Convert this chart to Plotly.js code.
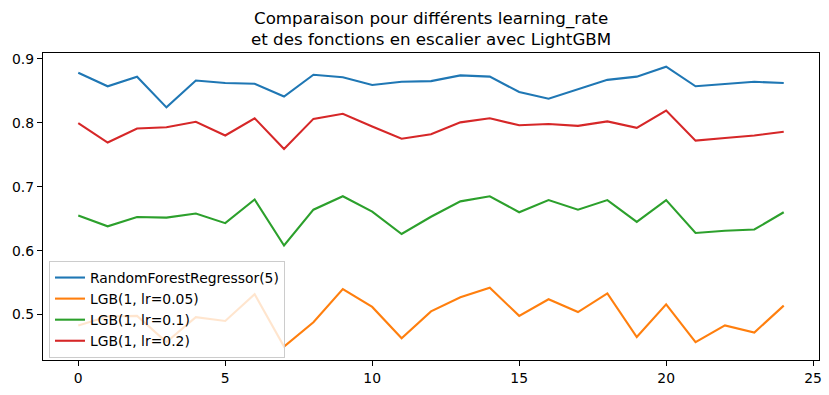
<!DOCTYPE html>
<html>
<head>
<meta charset="utf-8">
<script src="https://cdn.plot.ly/plotly-3.0.1.min.js"></script>
<style>html,body{margin:0;padding:0;background:#fff;}#chart{width:829px;height:395px;}</style>
</head>
<body>
<div id="chart"></div>
<script>
const xValues = [0,1,2,3,4,5,6,7,8,9,10,11,12,13,14,15,16,17,18,19,20,21,22,23,24];
const seriesNames = ["RandomForestRegressor(5)", "LGB(1, lr=0.05)", "LGB(1, lr=0.1)", "LGB(1, lr=0.2)"];
const rfValues = [0.878,0.857,0.872,0.824,0.866,0.862,0.861,0.841,0.875,0.871,0.859,0.864,0.865,0.874,0.872,0.848,0.8375,0.852,0.867,0.872,0.8875,0.857,0.861,0.864,0.862];
const lr005Values = [0.483,0.497,0.498,0.457,0.496,0.490,0.532,0.450,0.488,0.540,0.512,0.463,0.505,0.527,0.542,0.498,0.524,0.504,0.533,0.465,0.516,0.457,0.483,0.472,0.514];
const lr01Values = [0.655,0.638,0.6527,0.6516,0.658,0.643,0.680,0.608,0.664,0.685,0.661,0.626,0.653,0.677,0.685,0.660,0.679,0.664,0.679,0.645,0.679,0.6276,0.631,0.633,0.660];
const lr02Values = [0.7995,0.769,0.791,0.793,0.8015,0.780,0.807,0.759,0.806,0.814,0.794,0.775,0.782,0.8005,0.807,0.796,0.798,0.795,0.802,0.792,0.819,0.772,0.776,0.780,0.786];
const xTickVals = [0,5,10,15,20,25];
const xTickText = ["0","5","10","15","20","25"];
const yTickVals = [0.5,0.6,0.7,0.8,0.9];
const yTickText = ["0.5","0.6","0.7","0.8","0.9"];
const colors = ["#1f77b4","#ff7f0e","#2ca02c","#d62728"];
const allSeries = [rfValues, lr005Values, lr01Values, lr02Values];

const traces = allSeries.map((ys, k) => ({
  x: xValues, y: ys, type: "scatter", mode: "lines", name: seriesNames[k],
  line: {color: colors[k], width: 2.1}
}));

const font = {family: "DejaVu Sans", size: 13.9, color: "#000"};
const layout = {
  width: 829, height: 395,
  margin: {l: 43, r: 10, t: 53, b: 35},
  paper_bgcolor: "#fff", plot_bgcolor: "#fff",
  font: font,
  title: {
    text: "Comparaison pour différents learning_rate<br>et des fonctions en escalier avec LightGBM",
    font: {family: "DejaVu Sans", size: 16.7, color: "#000"},
    x: 0.52, xref: "container", xanchor: "center",
    y: 0.94, yref: "container", yanchor: "top"
  },
  xaxis: {
    range: [-1.2, 25.2], tickvals: xTickVals, ticktext: xTickText,
    showgrid: false, zeroline: false, showline: true, mirror: true,
    linecolor: "#000", linewidth: 1.1, ticks: "outside", ticklen: 5, tickwidth: 1.1, tickcolor: "#000",
    tickfont: font
  },
  yaxis: {
    range: [0.429, 0.909], tickvals: yTickVals, ticktext: yTickText,
    showgrid: false, zeroline: false, showline: true, mirror: true,
    linecolor: "#000", linewidth: 1.1, ticks: "outside", ticklen: 5, tickwidth: 1.1, tickcolor: "#000",
    tickfont: font
  },
  showlegend: true,
  legend: {
    x: 0.0077, y: 0.0065, xanchor: "left", yanchor: "bottom",
    bgcolor: "rgba(255,255,255,0.8)", bordercolor: "#cccccc", borderwidth: 1,
    font: font
  }
};
Plotly.newPlot("chart", traces, layout, {displayModeBar: false, staticPlot: true});
</script>
</body>
</html>
